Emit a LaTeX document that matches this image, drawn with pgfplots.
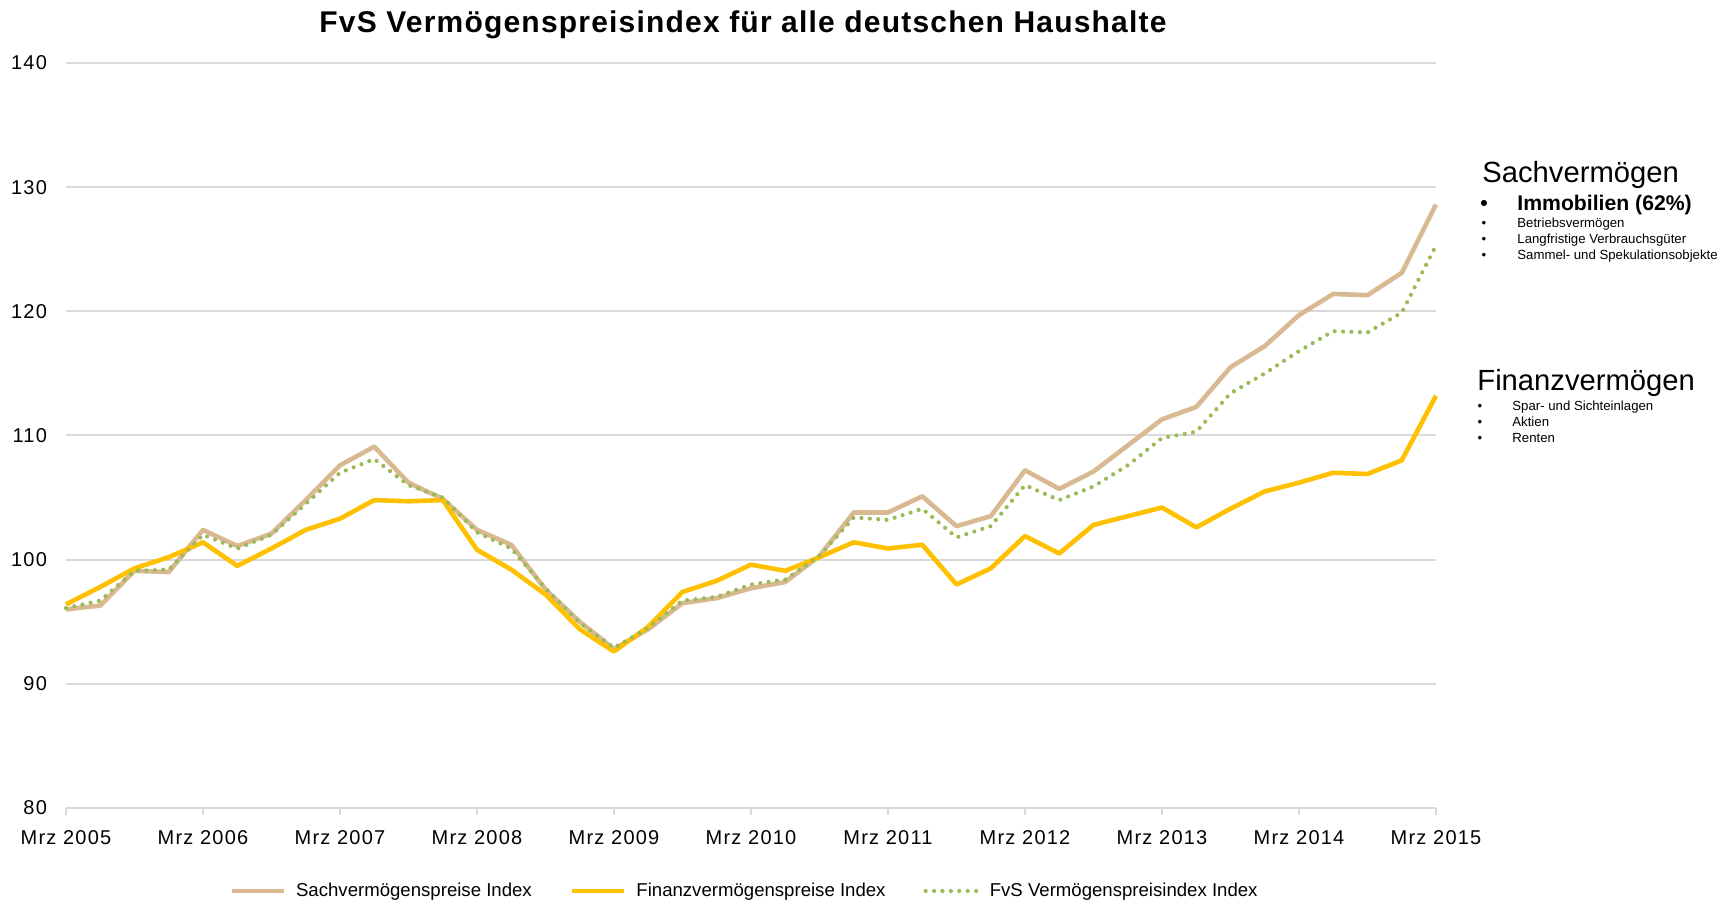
\documentclass[border=0pt]{standalone}
\usepackage{fontspec}
\setmainfont{Liberation Sans}
\newfontfamily\tickfont{Liberation Sans}[LetterSpace=6]
\newfontfamily\titlefont{Liberation Sans}[LetterSpace=4]
\usepackage{pgfplots}
\pgfplotsset{compat=1.18}
\usepackage{pgfplotstable}
\definecolor{tanc}{HTML}{D9B992}
\definecolor{goldc}{HTML}{FFC000}
\definecolor{greenc}{HTML}{9BBB59}
\definecolor{gridc}{HTML}{D9D9D9}
\pgfplotstableread{
i sach fin fvs
0 96.0 96.4 96.1
1 96.3 97.8 96.7
2 99.1 99.3 99.1
3 99.0 100.2 99.2
4 102.4 101.4 102.0
5 101.1 99.5 100.9
6 102.1 100.9 102.0
7 104.8 102.4 104.5
8 107.6 103.3 107.0
9 109.1 104.8 108.1
10 106.2 104.7 106.0
11 104.9 104.8 105.0
12 102.4 100.8 102.2
13 101.2 99.2 100.9
14 97.6 97.2 97.7
15 95.0 94.4 94.9
16 92.8 92.6 92.9
17 94.4 94.6 94.5
18 96.5 97.4 96.7
19 96.9 98.3 97.0
20 97.7 99.6 98.0
21 98.2 99.1 98.4
22 100.3 100.2 100.3
23 103.8 101.4 103.4
24 103.8 100.9 103.2
25 105.1 101.2 104.1
26 102.7 98.0 101.8
27 103.5 99.3 102.7
28 107.2 101.9 106.0
29 105.7 100.5 104.8
30 107.1 102.8 105.9
31 109.2 103.5 107.6
32 111.3 104.2 109.8
33 112.3 102.6 110.3
34 115.5 104.1 113.4
35 117.2 105.5 115.0
36 119.7 106.2 116.8
37 121.4 107.0 118.4
38 121.3 106.9 118.3
39 123.1 108.0 119.9
40 128.6 113.2 125.3
}\datatable
\begin{document}
\begin{tikzpicture}[x=1pt,y=1pt]
\useasboundingbox (-33,-47.5) rectangle (833.5,404);
\begin{axis}[
  at={(0,0)}, anchor=south west,
  width=685pt, height=372.5pt, scale only axis,
  xmin=0, xmax=40, ymin=80, ymax=140,
  clip=false,
  axis line style={draw=none},
  ymajorgrids, grid style={gridc, line width=1pt},
  xtick={0,4,...,40},
  xticklabels={Mrz 2005,Mrz 2006,Mrz 2007,Mrz 2008,Mrz 2009,Mrz 2010,Mrz 2011,Mrz 2012,Mrz 2013,Mrz 2014,Mrz 2015},
  ytick={80,90,...,140},
  xtick pos=bottom, ytick pos=left,
  tick align=outside, major tick length=3.5pt,
  xtick style={gridc, line width=1pt},
  ytick style={draw=none},
  /pgf/number format/assume math mode=true,
  tick label style={font=\tickfont\fontsize{10}{12}\selectfont, text=black},
  yticklabel style={xshift=-2.5pt},
  xticklabel style={yshift=-4pt},
  legend columns=3,
  legend style={at={(0.496,-0.1114)}, anchor=center, draw=none, fill=none,
    font=\fontsize{9.3}{11}\selectfont,
    /tikz/every even column/.append style={column sep=17pt},
    /tikz/every odd column/.append style={column sep=3pt}},
  legend image code/.code={\draw[#1] (0pt,0pt) -- (26pt,0pt);},
]
\addplot[tanc, line width=2.3pt, line join=round] table[x=i, y=sach] {\datatable};
\addlegendentry{Sachvermögenspreise Index}
\addplot[goldc, line width=2.3pt, line join=round] table[x=i, y=fin] {\datatable};
\addlegendentry{Finanzvermögenspreise Index}
\addplot[greenc, line width=2.1pt, line cap=round, dash pattern=on 0pt off 4.2pt] table[x=i, y=fvs] {\datatable};
\addlegendentry{FvS Vermögenspreisindex Index}
\end{axis}
\node[anchor=base, font=\titlefont\bfseries\fontsize{15}{18}\selectfont] at (338.5,387.5) {FvS Vermögenspreisindex für alle deutschen Haushalte};
\node[anchor=base west, inner sep=0pt, font=\fontsize{14.6}{17}\selectfont] at (708,312.5) {Sachvermögen};
\node[anchor=base, inner sep=0pt, font=\bfseries\fontsize{10.6}{12}\selectfont] at (709,298.5) {•};
\node[anchor=base west, inner sep=0pt, font=\bfseries\fontsize{10.6}{12}\selectfont] at (725.5,298.5) {Immobilien (62\%)};
\node[anchor=base, inner sep=0pt, font=\fontsize{6.6}{8}\selectfont] at (709,290) {•};
\node[anchor=base west, inner sep=0pt, font=\fontsize{6.6}{8}\selectfont] at (725.5,290) {Betriebsvermögen};
\node[anchor=base, inner sep=0pt, font=\fontsize{6.6}{8}\selectfont] at (709,282) {•};
\node[anchor=base west, inner sep=0pt, font=\fontsize{6.6}{8}\selectfont] at (725.5,282) {Langfristige Verbrauchsgüter};
\node[anchor=base, inner sep=0pt, font=\fontsize{6.6}{8}\selectfont] at (709,274) {•};
\node[anchor=base west, inner sep=0pt, font=\fontsize{6.6}{8}\selectfont] at (725.5,274) {Sammel- und Spekulationsobjekte};
\node[anchor=base west, inner sep=0pt, font=\fontsize{14.6}{17}\selectfont] at (705.5,208.5) {Finanzvermögen};
\node[anchor=base, inner sep=0pt, font=\fontsize{6.6}{8}\selectfont] at (707,198.5) {•};
\node[anchor=base west, inner sep=0pt, font=\fontsize{6.6}{8}\selectfont] at (723,198.5) {Spar- und Sichteinlagen};
\node[anchor=base, inner sep=0pt, font=\fontsize{6.6}{8}\selectfont] at (707,190.5) {•};
\node[anchor=base west, inner sep=0pt, font=\fontsize{6.6}{8}\selectfont] at (723,190.5) {Aktien};
\node[anchor=base, inner sep=0pt, font=\fontsize{6.6}{8}\selectfont] at (707,182.5) {•};
\node[anchor=base west, inner sep=0pt, font=\fontsize{6.6}{8}\selectfont] at (723,182.5) {Renten};
\end{tikzpicture}
\end{document}
